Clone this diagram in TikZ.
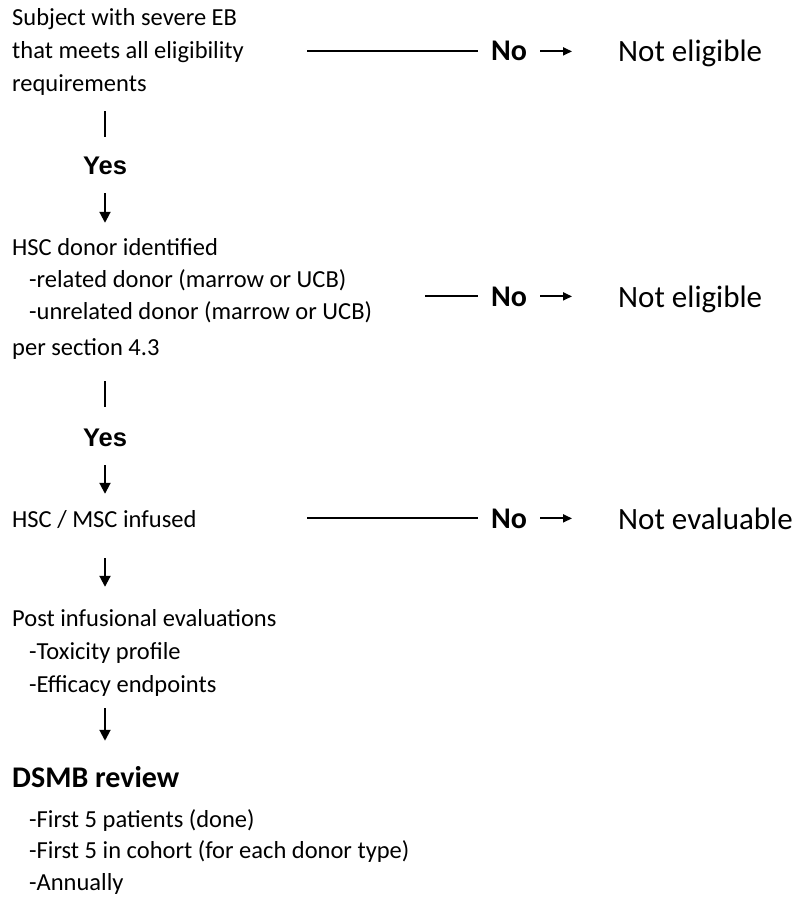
\documentclass[tikz,border=0pt]{standalone}
\usepackage{fontspec}
\setmainfont{Carlito}
\newfontfamily\yesfont{Liberation Sans}
\usetikzlibrary{arrows.meta}

\tikzset{
  txt/.style={anchor=base west, inner sep=0pt, align=left, font=\fontsize{24.5}{33}\selectfont},
  yesmark/.style={anchor=base, inner sep=0pt, font=\yesfont\bfseries\fontsize{25.5}{30}\selectfont},
  nomark/.style={anchor=base west, inner sep=0pt, font=\bfseries\fontsize{30}{36}\selectfont},
  outcome/.style={anchor=base west, inner sep=0pt, font=\fontsize{31}{37}\selectfont},
  heading/.style={anchor=base west, inner sep=0pt, font=\bfseries\fontsize{30}{36}\selectfont},
  bar/.style={line width=2.2pt},
  arr/.style={line width=2pt, -{Triangle[length=11pt,width=11pt]}},
  sarr/.style={line width=1.8pt, -{Triangle[length=9pt,width=8pt]}},
}
\newcommand{\ind}{\hspace*{17pt}}

\begin{document}
\begin{tikzpicture}[x=1pt,y=-1pt]
\useasboundingbox (0,0) rectangle (801,901);
% left column (multi-line blocks sit on their last baseline)
\node[txt] (subj) at (12,92) {Subject with severe EB\\that meets all eligibility\\requirements};
\node[yesmark] (yes1) at (105,175) {Yes};
\node[txt, font=\fontsize{24.5}{32}\selectfont] (donor) at (12,319) {HSC donor identified\\\ind-related donor (marrow or UCB)\\\ind-unrelated donor (marrow or UCB)};
\node[txt] (sect) at (12,355) {per section 4.3};
\node[yesmark] (yes2) at (105,446) {Yes};
\node[txt] (infused) at (12,527) {HSC / MSC infused};
\node[txt] (post) at (12,692) {Post infusional evaluations\\\ind-Toxicity profile\\\ind-Efficacy endpoints};
\node[heading] (dsmb) at (12,787) {DSMB review};
\node[txt, font=\fontsize{24.5}{31.5}\selectfont] (review) at (12,890) {\ind-First 5 patients (done)\\\ind-First 5 in cohort (for each donor type)\\\ind-Annually};
% right column
\node[nomark] (no1) at (491,61) {No};
\node[outcome] (ne1) at (618,62) {Not eligible};
\node[nomark] (no2) at (491,306) {No};
\node[outcome] (ne2) at (618,307) {Not eligible};
\node[nomark] (no3) at (491,528) {No};
\node[outcome] (nev) at (618,529) {Not evaluable};
\coordinate (s1) at (307,0);
\coordinate (s2) at (425,0);
\coordinate (s3) at (307,0);
% down the left side
\draw[bar, shorten <=15, shorten >=20] (yes1 |- subj.south) -- (yes1.north);
\draw[arr, shorten <=18, shorten >=15] (yes1.south) -- (yes1 |- donor.north);
\draw[bar, shorten <=22, shorten >=21] (yes2 |- sect.south) -- (yes2.north);
\draw[arr, shorten <=19, shorten >=16] (yes2.south) -- (yes2 |- infused.north);
\draw[arr, shorten <=30, shorten >=22] (yes2 |- infused.south) -- (yes2 |- post.north);
\draw[arr, shorten <=12, shorten >=25] (yes2 |- post.south) -- (yes2 |- dsmb.north);
% the No branches
\draw[bar, shorten >=13] (s1 |- no1.west) -- (no1.west);
\draw[bar, shorten >=13] (s2 |- no2.west) -- (no2.west);
\draw[bar, shorten >=13] (s3 |- no3.west) -- (no3.west);
\draw[sarr, shorten <=13, shorten >=46] (no1.east) -- (no1.east -| ne1.west);
\draw[sarr, shorten <=13, shorten >=46] (no2.east) -- (no2.east -| ne2.west);
\draw[sarr, shorten <=13, shorten >=46] (no3.east) -- (no3.east -| nev.west);
\end{tikzpicture}
\end{document}
